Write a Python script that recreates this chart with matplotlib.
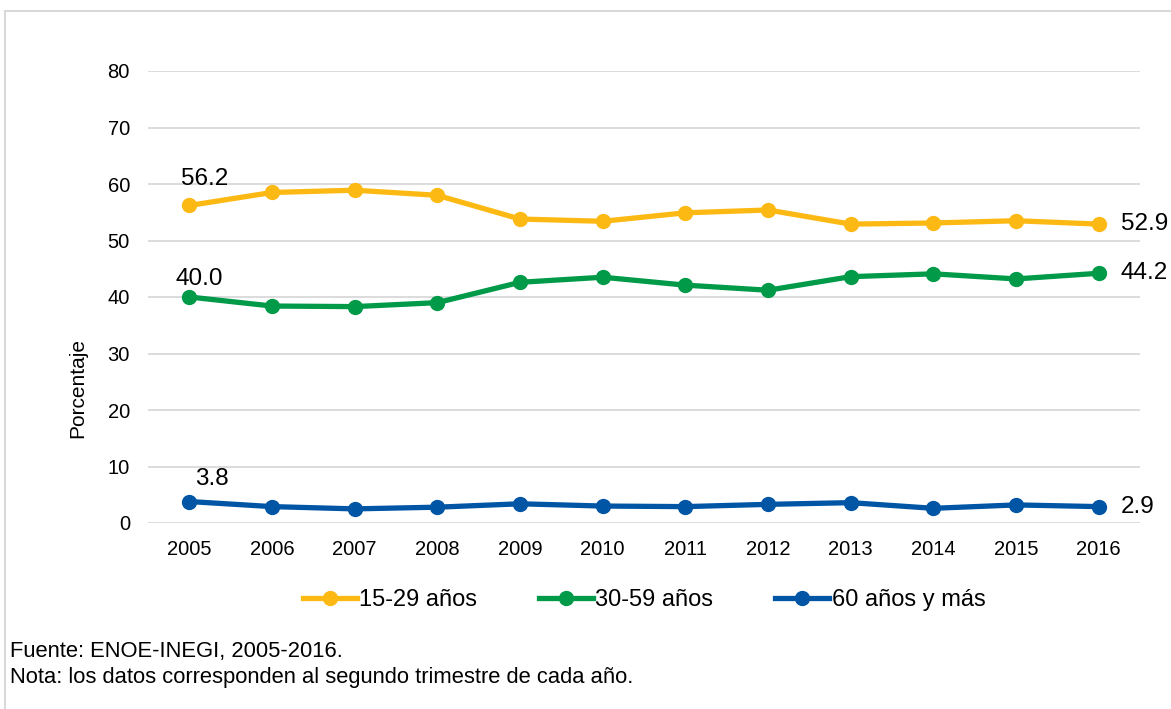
import matplotlib
matplotlib.use("Agg")
import matplotlib.pyplot as plt
from matplotlib.lines import Line2D

plt.rcParams["font.family"] = ["Liberation Sans", "DejaVu Sans"]

years = ["2005", "2006", "2007", "2008", "2009", "2010",
         "2011", "2012", "2013", "2014", "2015", "2016"]
jovenes = [56.2, 58.5, 58.9, 58.0, 53.8, 53.4, 54.9, 55.4, 52.9, 53.1, 53.5, 52.9]
adultos = [40.0, 38.4, 38.3, 39.0, 42.6, 43.5, 42.1, 41.2, 43.6, 44.1, 43.2, 44.2]
mayores = [3.8, 2.9, 2.5, 2.8, 3.4, 3.0, 2.9, 3.3, 3.6, 2.6, 3.2, 2.9]
series_labels = ["15-29 años", "30-59 años", "60 años y más"]
colors = ["#FDB913", "#009A49", "#0055A5"]
yticks = [0, 10, 20, 30, 40, 50, 60, 70, 80]
# pixel offsets of the first-value labels (moved by hand in the original)
first_offsets = [(15, 26), (10, 18), (23, 23)]

W, H = 1171, 709
fig = plt.figure(figsize=(W / 100, H / 100), dpi=100)
ax = fig.add_axes([148 / W, 1 - 523 / H, (1140 - 148) / W, (523 - 71) / H])

x = list(range(len(years)))
for vals, color, label, off in zip([jovenes, adultos, mayores], colors, series_labels, first_offsets):
    ax.plot(x, vals, color=color, linewidth=3.8, marker="o", markersize=10,
            label=label, solid_capstyle="round", zorder=3)
    ax.annotate(f"{vals[0]:.1f}", (x[0], vals[0]), xytext=off, textcoords="offset pixels",
                ha="center", va="center", fontsize=17.5)
    ax.annotate(f"{vals[-1]:.1f}", (x[-1], vals[-1]), xytext=(22, 0), textcoords="offset pixels",
                ha="left", va="center", fontsize=17.5)

ax.set_xlim(-0.5, len(years) - 0.5)
ax.set_ylim(0, 80)
ax.set_yticks(yticks)
ax.set_xticks(x)
ax.set_xticklabels(years)
ax.tick_params(axis="both", length=0, labelsize=14.5)
ax.tick_params(axis="y", pad=13)
ax.tick_params(axis="x", pad=12)
ax.grid(axis="y", color="#D9D9D9", linewidth=1.3)
ax.set_axisbelow(True)
for s in ax.spines.values():
    s.set_visible(False)

fig.text(78 / W, 1 - 388 / H, "Porcentaje", rotation=90, ha="center", va="center", fontsize=15)

handles = [Line2D([0], [0], color=c, linewidth=3.8, marker="o", markersize=10) for c in colors]
fig.legend(handles, series_labels, loc="center", bbox_to_anchor=(644 / W, 1 - 600 / H), ncol=3,
           frameon=False, fontsize=17, handlelength=2.3, handletextpad=0.1, columnspacing=2.6)

fig.text(10 / W, 1 - 652 / H, "Fuente: ENOE-INEGI, 2005-2016.", fontsize=15.8, va="center")
fig.text(10 / W, 1 - 677 / H, "Nota: los datos corresponden al segundo trimestre de cada año.",
         fontsize=15.8, va="center")

# light frame on top and left
fig.add_artist(Line2D([5 / W, 5 / W], [0, 1 - 11 / H], color="#D9D9D9", linewidth=1.5))
fig.add_artist(Line2D([5 / W, 1], [1 - 11 / H, 1 - 11 / H], color="#D9D9D9", linewidth=1.5))

fig.savefig("out.png", dpi=100)
